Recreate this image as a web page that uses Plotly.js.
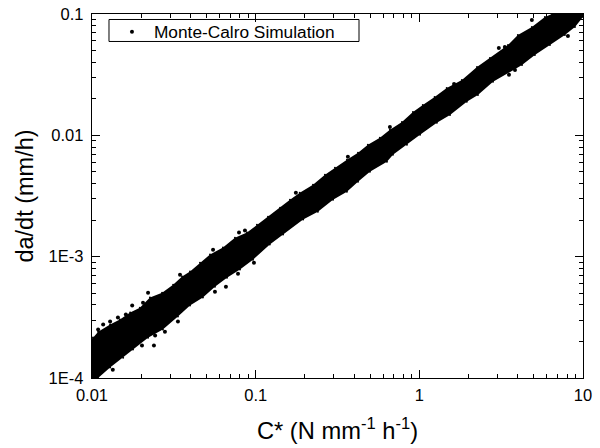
<!DOCTYPE html>
<html><head><meta charset="utf-8">
<script src="https://cdn.plot.ly/plotly-3.0.1.min.js"></script>
<style>html,body{margin:0;padding:0;background:#fff}</style></head>
<body><div id="chart" style="width:600px;height:448px"></div>
<script>
const upperX=[0.01,0.01014,0.0109,0.0129,0.0148,0.0171,0.0196,0.0226,0.0268,0.0313,0.0355,0.0397,0.0457,0.0526,0.0631,0.0747,0.0885,0.1018,0.119,0.141,0.162,0.186,0.224,0.265,0.305,0.361,0.422,0.485,0.574,0.661,0.783,0.914,1.05,1.24,1.47,1.82,2.25,2.70,3.48,4.00,4.87,5.85,6.46,10];
const upperY=[2.1e-4,2.154e-4,2.41e-4,2.756e-4,3.03e-4,3.46e-4,3.80e-4,4.60e-4,5.05e-4,5.88e-4,6.85e-4,7.53e-4,8.93e-4,1.04e-3,1.19e-3,1.43e-3,1.58e-3,1.83e-3,2.13e-3,2.53e-3,2.94e-3,3.36e-3,3.91e-3,4.73e-3,5.40e-3,6.28e-3,7.18e-3,8.35e-3,9.54e-3,0.0111,0.0129,0.0156,0.0178,0.0207,0.0246,0.0286,0.0366,0.0434,0.0555,0.0672,0.0781,0.0944,0.1,0.1];
const lowerX=[10,8.93,7.75,6.28,5.08,4.24,2.82,2.28,1.95,1.54,1.28,1.01,0.840,0.690,0.634,0.499,0.422,0.361,0.297,0.240,0.195,0.147,0.122,0.0963,0.0802,0.0668,0.0564,0.0476,0.0397,0.0335,0.0271,0.0220,0.0178,0.0155,0.0129,0.0109,0.01];
const lowerY=[0.0944,0.0781,0.0672,0.0555,0.0460,0.0380,0.0276,0.0215,0.0189,0.0147,0.0127,0.0101,8.35e-3,6.91e-3,6.05e-3,5.01e-3,4.14e-3,3.43e-3,2.94e-3,2.34e-3,2.02e-3,1.52e-3,1.26e-3,9.44e-4,7.82e-4,6.71e-4,5.66e-4,4.60e-4,3.95e-4,3.21e-4,2.51e-4,2.15e-4,1.72e-4,1.47e-4,1.22e-4,1e-4,1e-4];
const strayX=[0.0176,0.0239,0.0243,0.0335,0.0117,0.0220,0.0345,0.0549,0.0564,0.0791,0.0860,0.0780,0.0976,0.0658,0.176,0.366,0.661,1.63,4.87,8.09,3.06,3.33,3.53,3.84,0.0109,0.0129,0.0144,0.0161,0.0205,0.0202,0.0279,0.0134];
const strayY=[3.95e-4,1.85e-4,2.24e-4,2.92e-4,2.76e-4,5.05e-4,7.11e-4,1.14e-3,5.15e-4,1.58e-3,1.64e-3,7.24e-4,8.93e-4,5.66e-4,3.36e-3,6.65e-3,0.0117,0.0265,0.0893,0.0659,0.0525,0.0535,0.0315,0.0346,2.51e-4,2.92e-4,3.15e-4,3.33e-4,4.18e-4,1.85e-4,2.41e-4,1.17e-4];
const xMajor=[0.01,0.1,1,10], xLabels=['0.01','0.1','1','10'];
const yMajor=[1e-4,1e-3,0.01,0.1], yLabels=['1E-4','1E-3','0.01','0.1'];
const xMinor=[0.02,0.03,0.04,0.05,0.06,0.07,0.08,0.09,0.2,0.3,0.4,0.5,0.6,0.7,0.8,0.9,2,3,4,5,6,7,8,9];
const yMinor=[2e-4,3e-4,4e-4,5e-4,6e-4,7e-4,8e-4,9e-4,2e-3,3e-3,4e-3,5e-3,6e-3,7e-3,8e-3,9e-3,0.02,0.03,0.04,0.05,0.06,0.07,0.08,0.09];
const axisBase={type:'log',showgrid:false,zeroline:false,showline:true,linecolor:'#000',linewidth:1.3,mirror:'ticks',
  ticks:'inside',ticklen:8,tickwidth:1.2,tickcolor:'#000',layer:'below traces',tickfont:{size:16.5,color:'#000'}};
const traces=[
 {x:upperX.concat(lowerX),y:upperY.concat(lowerY),mode:'lines+markers',fill:'toself',fillcolor:'#000',line:{color:'#000',width:0},marker:{color:'#000',size:2},showlegend:false,hoverinfo:'skip'},
 {x:strayX,y:strayY,mode:'markers',name:'Monte-Calro Simulation',marker:{color:'#000',size:4}}
];
const layout={width:600,height:448,margin:{l:92,r:17,t:14,b:70},paper_bgcolor:'#fff',plot_bgcolor:'#fff',
 font:{family:'"Liberation Sans",Arial,sans-serif',color:'#000'},
 xaxis:Object.assign({},axisBase,{range:[-2,1],tickmode:'array',tickvals:xMajor,ticktext:xLabels,ticklabelstandoff:2,
   minor:{tickmode:'array',tickvals:xMinor,ticks:'inside',ticklen:4,tickwidth:1,tickcolor:'#000'},
   title:{text:'C* (N mm<sup>-1</sup> h<sup>-1</sup>)',font:{size:23.7},standoff:19}}),
 yaxis:Object.assign({},axisBase,{range:[-4,-1],tickmode:'array',tickvals:yMajor,ticktext:yLabels,ticklabelstandoff:4,
   minor:{tickmode:'array',tickvals:yMinor,ticks:'inside',ticklen:4,tickwidth:1,tickcolor:'#000'},
   title:{text:'da/dt (mm/h)',font:{size:23.5},standoff:8}}),
 showlegend:true,
 shapes:[{type:'rect',xref:'paper',yref:'paper',layer:'below',x0:0.0346,x1:0.5438,y0:0.9245,y1:0.9849,line:{color:'#000',width:1},fillcolor:'#fff'}],
 legend:{x:0.0366,y:1.0,xanchor:'left',yanchor:'top',bgcolor:'rgba(0,0,0,0)',borderwidth:0,
   font:{size:17.3,color:'#000'},itemwidth:34,tracegroupgap:0}
};
Plotly.newPlot('chart',traces,layout,{displayModeBar:false,staticPlot:true});
</script></body></html>
